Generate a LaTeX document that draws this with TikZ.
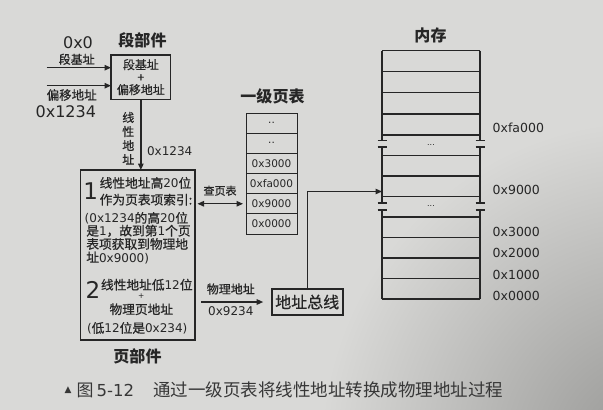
\documentclass[tikz,border=0pt]{standalone}
\usepackage{fontspec}
\setmainfont{DejaVu Sans}
\newfontfamily\zh[Scale=1.06,FakeBold=0.6]{Noto Sans CJK SC}
\newfontfamily\zht[Scale=1.06]{Noto Sans CJK SC}
\usetikzlibrary{arrows.meta}
\newcommand\setfs[1]{\fontsize{#1}{#1}\selectfont}
\definecolor{paper}{RGB}{217,217,215}
\definecolor{shadow}{RGB}{150,150,148}
\definecolor{ink}{RGB}{38,38,38}
\definecolor{capink}{RGB}{55,55,55}

\begin{document}
\begin{tikzpicture}[x=1pt,y=-1pt,
  every node/.style={text=ink,inner sep=0pt,outer sep=0pt},
  frame/.style={draw=ink,line width=1.5pt,rectangle},
  cell/.style={draw=ink,line width=1pt,rectangle,minimum width=51pt,minimum height=20.17pt,font=\setfs{10.5}},
  arr/.style={draw=ink,line width=1.3pt,-{Triangle[length=6.5pt,width=5.5pt]}},
  dbl/.style={draw=ink,line width=1.3pt,{Triangle[length=6.5pt,width=5.5pt]}-{Triangle[length=6.5pt,width=5.5pt]}},
  memline/.style={draw=ink,line width=1.2pt},
  title/.style={font=\setfs{15.1}\zht\bfseries},
  lab/.style={font=\setfs{11.3}\zh},
  hex/.style={font=\setfs{12}},
  bignum/.style={font=\setfs{23}},
  body/.style={font=\setfs{12},anchor=base west},
  memhex/.style={font=\setfs{12.5},anchor=west},
  captext/.style={text=capink,anchor=west},
]
% paper background with a soft shadow in the lower right corner
\fill[paper] (0,0) rectangle (603,410);
\begin{scope}
  \clip (0,0) rectangle (603,410);
  \shade[inner color=shadow,outer color=paper] (650,450) circle (330);
\end{scope}
\useasboundingbox (0,0) rectangle (603,410);

% ---------- segment unit ----------
\node[title] (segT) at (142.5,40) {段部件};
\node[frame,minimum width=59.7pt,minimum height=44.3pt,align=center,
      font=\fontsize{11.3}{12.5}\selectfont\zh] (seg) at (140.85,77.15) {段基址\\+\\偏移地址};
\coordinate (baseIn) at (46.7,67.7);
\coordinate (offIn) at (46.7,85.7);
\draw[arr] (baseIn) -- (baseIn -| seg.west);
\draw[arr] (offIn) -- (offIn -| seg.west);
\node[font=\setfs{16}] (v0) at (78,42.7) {0x0};
\node[lab] (lbase) at (76.7,59.3) {段基址};
\node[font=\setfs{11.8}\zh] (loff) at (71.7,95) {偏移地址};
\node[font=\setfs{16}] (v1234) at (65.8,111.7) {0x1234};

% ---------- page unit ----------
\node[frame,minimum width=114.3pt,minimum height=170pt] (page) at (137.85,255) {};
\node[title] (pageT) at (137.5,356.7) {页部件};
\draw[arr] (seg.south) -- (seg.south |- page.north);
\node[font=\fontsize{11.3}{14}\selectfont\zh,align=center] (vlin) at (128.3,138.3) {线\\性\\地\\址};
\node[hex] (vlinhex) at (169.7,150.7) {0x1234};

\node[bignum] (n1) at (90.7,191.3) {1};
\node[body] (t1) at (99.7,187.8) {{\zh 线性地址高}20{\zh 位}};
\node[body] (t2) at (99.7,204.5) {\zh 作为页表项索引:};
\node[body] (t3) at (84.7,222.8) {(0x1234{\zh 的高}20{\zh 位}};
\node[body] (t4) at (86.3,235.5) {{\zh 是}1{\zh ，故到第}1{\zh 个页}};
\node[body] (t5) at (86.3,248.8) {\zh 表项获取到物理地};
\node[body] (t6) at (86.3,262.1) {{\zh 址}0x9000)};
\node[bignum] (n2) at (93,289.7) {2};
\node[body] (t7) at (101,289.6) {{\zh 线性地址低}12{\zh 位}};
\node[font=\setfs{7.5}] (t8) at (141.3,296) {+};
\node[font=\setfs{11.97}\zh] (t9) at (141.3,309.3) {物理页地址};
\node[body] (t10) at (87,332.8) {({\zh 低}12{\zh 位是}0x234)};

% ---------- one-level page table ----------
\node[title] (ptT) at (272.5,96.7) {一级页表};
\foreach \i/\t in {1/..,2/..,3/0x3000,4/0xfa000,5/0x9000,6/0x0000}
  \node[cell] (pt\i) at (271.5,{113+(\i-0.5)*20.17}) {\t};
\draw[dbl,shorten <=2.5pt,shorten >=3pt] (page.east |- pt5.west) -- (pt5.west);
\node[font=\setfs{10.4}\zh] (lookup) at (220,190.7) {查页表};

% ---------- address bus ----------
\node[draw=ink,line width=2.4pt,minimum width=71pt,minimum height=26pt,
      font=\setfs{15.1}\zh] (bus) at (307.2,302) {地址总线};
\draw[arr,shorten <=6pt,shorten >=8.5pt] (page.east |- bus.west) -- (bus.west);
\node[lab] (lphys) at (230.8,289) {物理地址};
\node[hex] (vphys) at (230.8,311) {0x9234};

% ---------- memory ----------
\node[title] (memT) at (430.5,35) {内存};
\foreach \y in {50.5,71.5,92.5,114,135,155.5,176,196.5,217,237.5,258,278.5,299}
  \draw[memline] (382,\y) -- (480,\y);
\foreach \x in {382,480} {
  \draw[memline] (\x,50.5) -- (\x,140.5);
  \draw[memline] (\x,147) -- (\x,203);
  \draw[memline] (\x,210) -- (\x,299);
  \foreach \y in {140.5,147,203,210}
    \draw[memline] (\x-4.5,\y) -- (\x+4.5,\y);
}
\node[font=\setfs{8}] (gap1) at (431,145) {...};
\node[font=\setfs{8}] (gap2) at (431,206) {...};
\coordinate (mem9) at (382,191.5);
\draw[arr,line width=1.1pt] (bus.north) |- (mem9);
\foreach \y/\t [count=\k] in {127.7/0xfa000,190/0x9000,232/0x3000,253.3/0x2000,275/0x1000,295.5/0x0000}
  \node[memhex] (mh\k) at (492.7,\y) {\t};

% ---------- caption ----------
\node[font=\setfs{9},text=capink] (tri) at (68,390) {▲};
\node[captext,font=\setfs{16}\zht] (capfig) at (76.7,390) {图};
\node[captext,font=\setfs{16.5}] (capnum) at (96.7,390) {5-12};
\node[captext,font=\setfs{16.5}\zht] (captxt) at (153.3,390) {通过一级页表将线性地址转换成物理地址过程};
\end{tikzpicture}
\end{document}
